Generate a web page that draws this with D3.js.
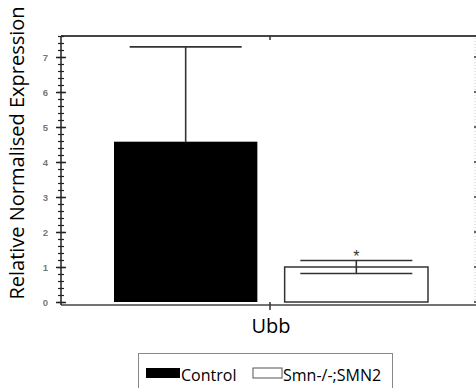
<!DOCTYPE html>
<html lang="en">
<head>
  <meta charset="UTF-8">
  <title>Ubb expression</title>
  <script src="https://d3js.org/d3.v7.min.js" charset="utf-8"></script>
  <style>
    body { margin: 0; background: #fff; }
    .yaxis text { font-family: Arial, "Liberation Sans", sans-serif; font-size: 9.5px; fill: #777; font-weight: bold; }
    .yaxis path { display: none; }
  </style>
</head>
<body>
<div class="div1"></div>
<script>
  // data
  var genes = ['Ubb']
  var series = ['Control', 'Smn-/-;SMN2']
  var means = [4.58, 1.0]
  var errors = [2.71, 0.185]
  var fills = ['#000', '#fff']
  var yTicks = [0, 1, 2, 3, 4, 5, 6, 7]
  var yMinor = d3.range(0, 7.61, 0.2)

  var width = 476
  var height = 388
  var plotLeft = 61, plotRight = 476, plotTop = 36, plotBottom = 305

  var svg = d3.select('.div1')
    .append('svg')
    .attr('width', width)
    .attr('height', height)

  var y = d3.scaleLinear()
    .domain([0, 7.6])
    .range([302, plotTop])

  var xGroup = d3.scaleBand()
    .domain(genes)
    .range([114, 428])

  var xSeries = d3.scaleBand()
    .domain(series)
    .range([0, xGroup.bandwidth()])
    .paddingInner(0.16)

  // frame: top line and bottom axis line
  svg.append('line')
    .attr('x1', plotLeft).attr('x2', plotRight)
    .attr('y1', plotTop).attr('y2', plotTop)
    .attr('stroke', '#444').attr('stroke-width', 2)
  svg.append('line')
    .attr('x1', plotLeft).attr('x2', plotRight)
    .attr('y1', plotBottom).attr('y2', plotBottom)
    .attr('stroke', '#444').attr('stroke-width', 1.5)
  svg.append('line')
    .attr('x1', plotLeft).attr('x2', plotLeft)
    .attr('y1', plotTop).attr('y2', plotBottom)
    .attr('stroke', '#222').attr('stroke-width', 1.5)

  // left axis: majors outward + inward, minors
  svg.append('g')
    .attr('class', 'yaxis')
    .attr('transform', 'translate(' + plotLeft + ',0)')
    .call(d3.axisLeft(y).tickValues(yTicks).tickSize(5).tickPadding(8).tickFormat(d3.format('d')))
    .selectAll('line').attr('stroke', '#222').attr('stroke-width', 1.5)
  svg.append('g')
    .attr('class', 'yaxis')
    .attr('transform', 'translate(' + plotLeft + ',0)')
    .call(d3.axisLeft(y).tickValues(yTicks).tickSize(-5).tickFormat(''))
    .selectAll('line').attr('stroke', '#222').attr('stroke-width', 1.5)
  svg.append('g')
    .attr('class', 'yaxis')
    .attr('transform', 'translate(' + (plotLeft + 3) + ',0)')
    .call(d3.axisLeft(y).tickValues(yMinor).tickSize(6).tickFormat(''))
    .selectAll('line').attr('stroke', '#222').attr('stroke-width', 1.2)

  // faint right axis
  svg.append('line')
    .attr('x1', 475).attr('x2', 475)
    .attr('y1', plotTop + 2).attr('y2', plotBottom)
    .attr('stroke', '#e4e4e4').attr('stroke-width', 2)
    .attr('stroke-dasharray', '1,2')
  svg.selectAll('.rtick')
    .data(yTicks)
    .enter()
    .append('rect')
    .attr('class', 'rtick')
    .attr('x', 474)
    .attr('y', d => y(d) - 1)
    .attr('width', 2)
    .attr('height', 2)
    .attr('fill', '#666')

  // x ticks (bottom and top)
  var xc = xGroup('Ubb') + xGroup.bandwidth() / 2 - 1
  svg.append('line')
    .attr('x1', xc).attr('x2', xc)
    .attr('y1', plotBottom - 3).attr('y2', plotBottom + 5)
    .attr('stroke', '#333').attr('stroke-width', 1.5)
  svg.append('line')
    .attr('x1', xc).attr('x2', xc)
    .attr('y1', plotTop).attr('y2', plotTop + 4)
    .attr('stroke', '#333').attr('stroke-width', 1.5)
  svg.append('text')
    .attr('x', xc + 1)
    .attr('y', 333)
    .attr('text-anchor', 'middle')
    .attr('font-family', 'Open Sans, sans-serif')
    .attr('font-size', 20)
    .text('Ubb')

  // bars
  var bx = i => xGroup('Ubb') + xSeries(series[i])
  svg.selectAll('.bar')
    .data(means)
    .enter()
    .append('rect')
    .attr('class', 'bar')
    .attr('x', (d, i) => bx(i))
    .attr('y', d => y(d))
    .attr('width', xSeries.bandwidth())
    .attr('height', d => y(0) - y(d))
    .attr('fill', (d, i) => fills[i])
    .attr('stroke', '#333')
    .attr('stroke-width', (d, i) => i === 0 ? 0 : 1.5)

  // error bars (the part inside a black bar is not visible)
  var capHalf = 56
  means.forEach((m, i) => {
    var cx = bx(i) + xSeries.bandwidth() / 2
    var low = fills[i] === '#000' ? '#000' : '#333'
    var g = svg.append('g').attr('stroke-width', 1.6)
    g.append('line')
      .attr('x1', cx).attr('x2', cx)
      .attr('y1', y(m + errors[i])).attr('y2', y(m))
      .attr('stroke', '#333')
    g.append('line')
      .attr('x1', cx).attr('x2', cx)
      .attr('y1', y(m)).attr('y2', y(m - errors[i]))
      .attr('stroke', low)
    g.append('line')
      .attr('x1', cx - capHalf).attr('x2', cx + capHalf)
      .attr('y1', y(m + errors[i])).attr('y2', y(m + errors[i]))
      .attr('stroke', '#333')
    g.append('line')
      .attr('x1', cx - capHalf).attr('x2', cx + capHalf)
      .attr('y1', y(m - errors[i])).attr('y2', y(m - errors[i]))
      .attr('stroke', low)
  })

  // significance star
  svg.append('text')
    .attr('x', bx(1) + xSeries.bandwidth() / 2)
    .attr('y', y(means[1] + errors[1]) + 1)
    .attr('text-anchor', 'middle')
    .attr('font-family', 'Arial, sans-serif')
    .attr('font-size', 16)
    .attr('fill', '#333')
    .text('*')

  // y label
  svg.append('text')
    .attr('transform', 'translate(24,' + 153 + ') rotate(-90)')
    .attr('text-anchor', 'middle')
    .attr('font-family', 'Open Sans, sans-serif')
    .attr('font-size', 20)
    .text('Relative Normalised Expression')

  // legend
  svg.append('rect')
    .attr('x', 138.5).attr('y', 353.5)
    .attr('width', 254).attr('height', 40)
    .attr('fill', 'none').attr('stroke', '#888')
  var legX = [146, 253]
  var legW = [34, 29]
  series.forEach((s, i) => {
    svg.append('rect')
      .attr('x', legX[i]).attr('y', 368)
      .attr('width', legW[i]).attr('height', 10)
      .attr('fill', fills[i])
      .attr('stroke', i === 0 ? 'none' : '#555')
    svg.append('text')
      .attr('x', legX[i] + legW[i] + 1)
      .attr('y', 381)
      .attr('font-family', 'Open Sans, sans-serif')
      .attr('font-size', 16)
      .text(s)
  })
</script>
</body>
</html>
